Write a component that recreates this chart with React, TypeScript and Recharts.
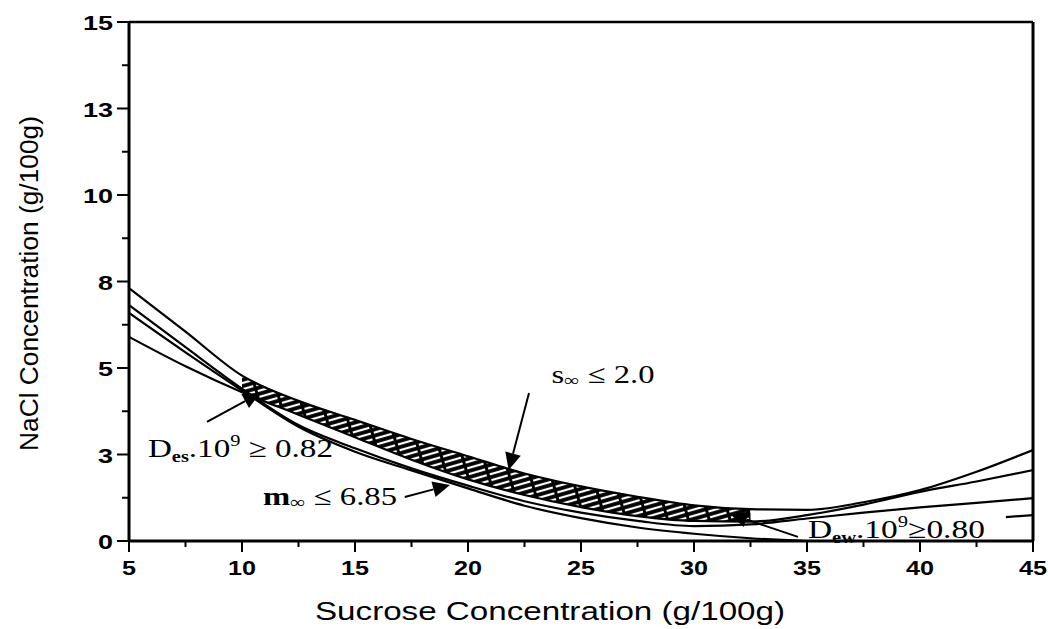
import React from 'react';
import {
  ComposedChart,
  Line,
  Area,
  XAxis,
  YAxis,
  ReferenceLine,
  ReferenceDot,
  Label,
} from 'recharts';

// sucrose concentration (g/100g), sampled every 2.5
const sucrose = [5, 7.5, 10, 12.5, 15, 17.5, 20, 22.5, 25, 27.5, 30, 32.5, 35, 37.5, 40, 42.5, 45];

// NaCl concentration (g/100g) on each constraint boundary
const sInfBound = [7.31, 6.05, 4.78, 4.05, 3.5, 2.95, 2.45, 1.95, 1.58, 1.28, 1.03, 0.92, 0.9, 1.12, 1.47, 2.0, 2.63];
const dewBound = [5.9, 5.05, 4.3, 3.65, 3.0, 2.35, 1.78, 1.33, 0.98, 0.72, 0.58, 0.56, 0.75, 1.05, 1.42, 1.72, 2.05];
const desBound = [6.82, 5.6, 4.4, 3.35, 2.68, 2.1, 1.6, 1.15, 0.82, 0.58, 0.43, 0.48, 0.65, 0.82, 0.97, 1.1, 1.24];
const mInfBound = [6.59, 5.45, 4.35, 3.3, 2.58, 2.04, 1.52, 1.02, 0.66, 0.39, 0.21, 0.08, 0, null, null, null, null];

// short piece of a boundary re-entering at the right edge
const tailSucrose = [43.8, 45];
const tailNaCl = [0.69, 0.75];

// feasible (hatched) window between the dew and s-inf boundaries
const bandFrom = 10;
const bandTo = 32.5;

const xMajor = [5, 10, 15, 20, 25, 30, 35, 40, 45];
const xMinor = [7.5, 12.5, 17.5, 22.5, 27.5, 32.5, 37.5, 42.5];
const yMajor = [0, 2.5, 5, 7.5, 10, 12.5, 15];
const yLabels = ['0', '3', '5', '8', '10', '13', '15'];
const yMinor = [1.25, 3.75, 6.25, 8.75, 11.25, 13.75];

// arrows: tail -> tip, in data units
const arrows = [
  { id: 's', from: [22.7, 4.28], to: [21.8, 2.05] },
  { id: 'des', from: [8.45, 3.44], to: [10.8, 4.28] },
  { id: 'm', from: [17.2, 1.27], to: [19.2, 1.62] },
  { id: 'dew', from: [34.6, 0.12], to: [31.6, 0.78] },
];

const rows = sucrose.map((x, i) => ({
  x,
  sInf: sInfBound[i],
  dew: dewBound[i],
  des: desBound[i],
  mInf: mInfBound[i],
  band: x >= bandFrom && x <= bandTo ? [dewBound[i], sInfBound[i]] : null,
}));

const tailRows = tailSucrose.map((x, i) => ({ x, tail: tailNaCl[i] }));

const serif = 'Liberation Serif, Times New Roman, serif';
const sans = 'Liberation Sans, Arial, sans-serif';

const XTick = (props: any) => {
  const { x, y, payload } = props;
  const major = xMajor.includes(payload.value);
  const label = String(payload.value);
  return (
    <g>
      <line x1={x} x2={x} y1={y} y2={y + (major ? 11 : 6)} stroke="#000" strokeWidth={2} />
      {major && (
        <text
          x={x}
          y={y + 34}
          textAnchor="middle"
          fontFamily={sans}
          fontWeight="bold"
          fontSize={21}
          fill="#000"
          textLength={label.length * 14}
          lengthAdjust="spacingAndGlyphs"
        >
          {label}
        </text>
      )}
    </g>
  );
};

const YTick = (props: any) => {
  const { x, y, payload } = props;
  const i = yMajor.indexOf(payload.value);
  return (
    <g>
      <line x1={x - (i >= 0 ? 12 : 7)} x2={x} y1={y} y2={y} stroke="#000" strokeWidth={2} />
      {i >= 0 && (
        <text
          x={x - 16}
          y={y + 8}
          textAnchor="end"
          fontFamily={sans}
          fontWeight="bold"
          fontSize={21}
          fill="#000"
          textLength={yLabels[i].length * 15}
          lengthAdjust="spacingAndGlyphs"
        >
          {yLabels[i]}
        </text>
      )}
    </g>
  );
};

const Arrow = (props: any) => {
  const { x1, y1, x2, y2 } = props;
  const len = Math.hypot(x2 - x1, y2 - y1) || 1;
  const ux = (x2 - x1) / len;
  const uy = (y2 - y1) / len;
  const bx = x2 - ux * 17;
  const by = y2 - uy * 17;
  const w = 8;
  return (
    <g>
      <line x1={x1} y1={y1} x2={bx} y2={by} stroke="#000" strokeWidth={2} />
      <polygon
        points={`${x2},${y2} ${bx - uy * w},${by + ux * w} ${bx + uy * w},${by - ux * w}`}
        fill="#000"
      />
    </g>
  );
};

// annotation text, anchored at its left baseline
const note = (width: number, body: React.ReactNode) => (props: any) => (
  <text
    x={props.cx}
    y={props.cy}
    fontFamily={serif}
    fontSize={26}
    fill="#000"
    textLength={width}
    lengthAdjust="spacingAndGlyphs"
  >
    {body}
  </text>
);

const sNote = note(
  103,
  <>
    <tspan>s</tspan>
    <tspan fontSize={17} dy={3}>∞</tspan>
    <tspan dy={-3}> ≤ 2.0</tspan>
  </>
);
const desNote = note(
  185,
  <>
    <tspan>D</tspan>
    <tspan fontSize={16} fontWeight="bold" dy={5}>es</tspan>
    <tspan dy={-5}>.10</tspan>
    <tspan fontSize={16} dy={-11}>9</tspan>
    <tspan dy={11}> ≥ 0.82</tspan>
  </>
);
const mNote = note(
  134,
  <>
    <tspan fontWeight="bold">m</tspan>
    <tspan fontSize={17} dy={3}>∞</tspan>
    <tspan dy={-3}> ≤ 6.85</tspan>
  </>
);
const dewNote = note(
  177,
  <>
    <tspan>D</tspan>
    <tspan fontSize={16} fontWeight="bold" dy={5}>ew</tspan>
    <tspan dy={-5}>.10</tspan>
    <tspan fontSize={16} dy={-11}>9</tspan>
    <tspan dy={11}>≥0.80</tspan>
  </>
);

const XTitle = (props: any) => {
  const vb = props.viewBox || { x: 129, y: 541, width: 904 };
  return (
    <text
      x={vb.x + vb.width / 2 - 31}
      y={vb.y + 79}
      textAnchor="middle"
      fontFamily={sans}
      fontSize={26}
      fill="#000"
      textLength={470}
      lengthAdjust="spacingAndGlyphs"
    >
      Sucrose Concentration (g/100g)
    </text>
  );
};

const YTitle = (props: any) => {
  const vb = props.viewBox || { x: 0, y: 22, height: 519 };
  const cx = 29;
  const cy = vb.y + vb.height / 2 + 2;
  return (
    <text
      x={cx}
      y={cy}
      transform={`rotate(-90 ${cx} ${cy})`}
      textAnchor="middle"
      dominantBaseline="central"
      fontFamily={sans}
      fontSize={26}
      fill="#000"
      textLength={335}
      lengthAdjust="spacingAndGlyphs"
    >
      NaCl Concentration (g/100g)
    </text>
  );
};

const curve = (key: string) => (
  <Line
    key={key}
    dataKey={key}
    type="monotone"
    stroke="#000"
    strokeWidth={2.2}
    dot={false}
    activeDot={false}
    isAnimationActive={false}
  />
);

export default function App() {
  return (
    <div style={{ position: 'absolute', left: 0, top: 0, width: 1048, height: 629, background: '#fff' }}>
      <svg width={0} height={0} style={{ position: 'absolute' }}>
        <defs>
          <pattern id="hatch" patternUnits="userSpaceOnUse" width={20} height={6} patternTransform="rotate(-16)">
            <rect width={20} height={6} fill="#000" />
            <line x1={0} y1={3} x2={17} y2={3} stroke="#fff" strokeWidth={2.2} />
          </pattern>
        </defs>
      </svg>
      <ComposedChart width={1048} height={629} data={rows} margin={{ top: 22, right: 15, bottom: 0, left: 0 }}>
        <XAxis
          dataKey="x"
          type="number"
          domain={[5, 45]}
          ticks={[...xMajor, ...xMinor].sort((a, b) => a - b)}
          interval={0}
          height={88}
          allowDataOverflow
          axisLine={{ stroke: '#000', strokeWidth: 3 }}
          tickLine={false}
          tickSize={0}
          tickMargin={0}
          tick={<XTick />}
        >
          <Label content={XTitle} />
        </XAxis>
        <YAxis
          type="number"
          domain={[0, 15]}
          ticks={[...yMajor, ...yMinor].sort((a, b) => a - b)}
          interval={0}
          width={129}
          allowDataOverflow
          axisLine={{ stroke: '#000', strokeWidth: 3 }}
          tickLine={false}
          tickSize={0}
          tickMargin={0}
          tick={<YTick />}
        >
          <Label content={YTitle} />
        </YAxis>
        <ReferenceLine y={15} stroke="#000" strokeWidth={2.5} />
        <ReferenceLine x={45} stroke="#000" strokeWidth={3} />
        <Area
          dataKey="band"
          type="monotone"
          fill="url(#hatch)"
          fillOpacity={1}
          stroke="none"
          activeDot={false}
          isAnimationActive={false}
        />
        {curve('sInf')}
        {curve('dew')}
        {curve('des')}
        {curve('mInf')}
        <Line
          data={tailRows}
          dataKey="tail"
          type="linear"
          stroke="#000"
          strokeWidth={2.2}
          dot={false}
          activeDot={false}
          isAnimationActive={false}
        />
        {arrows.map((a) => (
          <ReferenceLine
            key={a.id}
            segment={[
              { x: a.from[0], y: a.from[1] },
              { x: a.to[0], y: a.to[1] },
            ]}
            shape={Arrow}
          />
        ))}
        <ReferenceDot x={23.7} y={4.57} r={0} shape={sNote} />
        <ReferenceDot x={5.84} y={2.43} r={0} shape={desNote} />
        <ReferenceDot x={10.93} y={1.04} r={0} shape={mNote} />
        <ReferenceDot x={35.04} y={0.09} r={0} shape={dewNote} />
      </ComposedChart>
    </div>
  );
}
